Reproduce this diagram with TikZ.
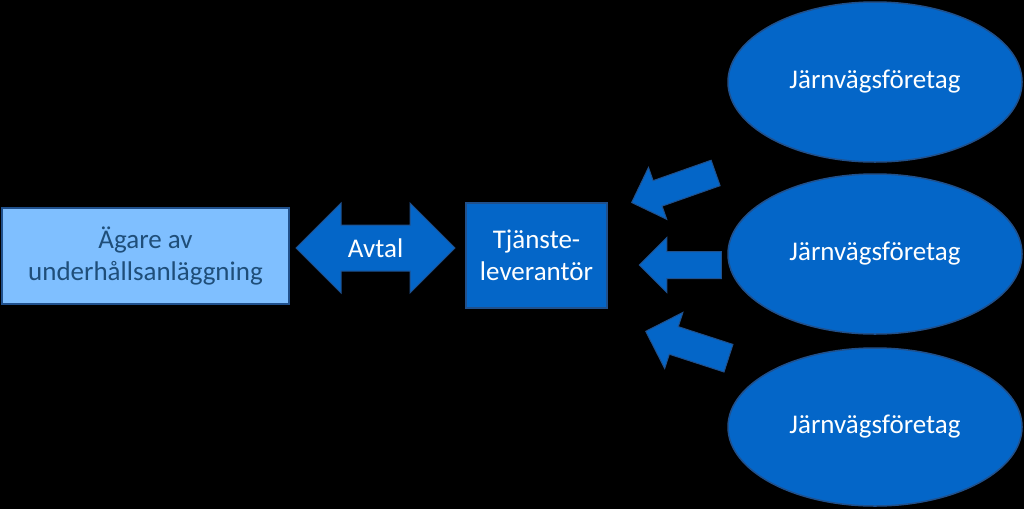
\documentclass[tikz,border=0pt]{standalone}
\usepackage{fontspec}
\setmainfont{Carlito}
\usetikzlibrary{shapes.geometric, shapes.arrows}
\definecolor{ljusbla}{RGB}{127,191,255}
\definecolor{morkbla}{RGB}{4,102,200}
\definecolor{kantbla}{RGB}{32,80,140}
\definecolor{rutatext}{RGB}{31,78,121}
\tikzset{
  stortext/.style={font=\fontsize{27}{32}\selectfont},
  agarruta/.style={draw=kantbla, line width=1.5pt, fill=ljusbla, text=rutatext, align=center, stortext},
  leverantor/.style={draw=kantbla, line width=1.5pt, fill=morkbla, text=white, align=center, stortext},
  foretag/.style={ellipse, draw=kantbla, line width=1.5pt, fill=morkbla, text=white, stortext},
  pil/.style={single arrow, draw=kantbla, line width=1pt, fill=morkbla, inner sep=0pt, inner ysep=13pt,
    minimum width=54pt, single arrow head extend=14pt},
  avtalspil/.style={double arrow, draw=kantbla, line width=1pt, fill=morkbla, text=white, stortext,
    text height=18pt, text depth=0pt, inner ysep=13.5pt, inner xsep=0pt,
    minimum width=89pt, minimum height=159pt, double arrow head extend=22pt}
}

\begin{document}
\begin{tikzpicture}[x=1pt, y=-1pt]
\useasboundingbox[fill=black] (0,0) rectangle (1024,509);

\node[agarruta, minimum width=287pt, minimum height=96pt] (agare) at (145.5,256) {Ägare av\\underhållsanläggning};
\node[avtalspil] (avtal) at (375.5,248) {Avtal};
\node[leverantor, minimum width=141pt, minimum height=105pt] (tjanst) at (536.5,255.5) {Tjänste-\\leverantör};

\node[foretag, minimum width=294pt, minimum height=160pt] (jvA) at (875,82) {Järnvägsföretag};
\node[foretag, minimum width=294pt, minimum height=160pt] (jvB) at (875,254) {Järnvägsföretag};
\node[foretag, minimum width=294pt, minimum height=158pt] (jvC) at (875,427) {Järnvägsföretag};

\node[pil, rotate=199.4, minimum height=89pt] (pilA) at (680,185.5) {};
\node[pil, rotate=180, minimum height=82pt] (pilB) at (687,265) {};
\node[pil, rotate=162, minimum height=87pt, minimum width=58pt, single arrow head extend=15pt, inner ysep=14pt] (pilC) at (694,347) {};
\end{tikzpicture}
\end{document}
